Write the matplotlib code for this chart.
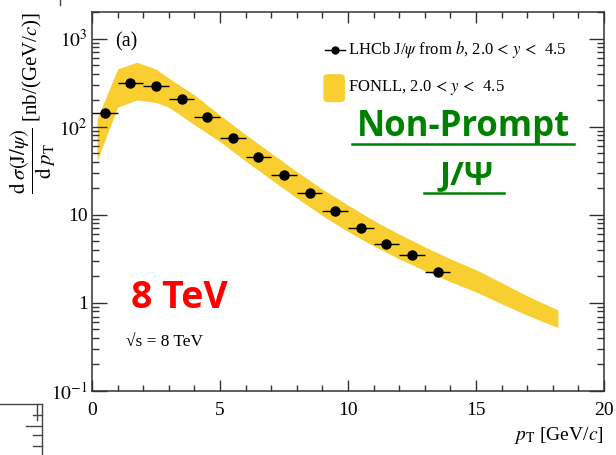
import matplotlib.pyplot as plt
import numpy as np
from matplotlib.lines import Line2D
from matplotlib.patches import FancyBboxPatch

plt.rcParams['mathtext.fontset'] = 'stix'
plt.rcParams['font.family'] = ['Liberation Serif', 'DejaVu Serif']

# LHCb non-prompt J/psi, 8 TeV
pt_centers = [0.5, 1.5, 2.5, 3.5, 4.5, 5.5, 6.5, 7.5, 8.5, 9.5, 10.5, 11.5, 12.5, 13.5]
pt_halfwidth = [0.5] * 14
xsec = [141, 316, 290, 204, 128, 75, 45.6, 28, 17.5, 10.9, 7.06, 4.65, 3.51, 2.23]

# FONLL band
fonll_pt = [0.2, 0.6, 1.0, 1.75, 2.5, 3, 4, 5, 6, 7, 8, 9, 10,
            11, 12, 13, 14, 15, 16, 17, 18.2]
fonll_hi = [122, 235, 452, 538, 450, 355, 229, 135, 81.3, 50.1, 30.9, 19.5, 12.9,
            8.61, 6.03, 4.32, 3.16, 2.38, 1.70, 1.20, 0.83]
fonll_lo = [41, 83, 166, 201, 188, 166, 105, 67.6, 40.7, 25.1, 15.5, 9.77, 6.46,
            4.42, 3.16, 2.32, 1.74, 1.33, 0.977, 0.724, 0.525]

band_color = '#f8ce30'

fig = plt.figure(figsize=(6.16, 4.55), dpi=100)
ax = fig.add_axes([92/616, 1 - 391/455, 512/616, 379/455])

ax.fill_between(fonll_pt, fonll_lo, fonll_hi, color=band_color, linewidth=0)
ax.errorbar(pt_centers, xsec, xerr=pt_halfwidth, fmt='o', color='black', ms=6.5,
            elinewidth=1.0, capsize=0, zorder=5)

ax.set_yscale('log')
ax.set_xlim(0, 20)
ax.set_ylim(0.1, 2000)

ax.set_xticks([0, 5, 10, 15, 20])
ax.set_xticks(np.arange(0, 21, 1), minor=True)
ax.set_yticks([0.1, 1, 10, 100, 1000])
ax.set_yticklabels([r'$10^{-1}$', '1', '10', r'$10^{2}$', r'$10^{3}$'])
ax.tick_params(which='both', direction='in', top=True, right=True, labelsize=14,
               color='#333333', width=1.0)
ax.tick_params(axis='x', which='major', length=8, pad=8)
ax.tick_params(axis='x', which='minor', length=4.3)
ax.tick_params(axis='y', which='major', length=10.5, pad=3)
ax.tick_params(axis='y', which='minor', length=5)
for s in ax.spines.values():
    s.set_linewidth(1.1)
    s.set_color('#333333')

# legend drawn by hand, ROOT style
ax.plot([0.455, 0.494], [0.90, 0.90], transform=ax.transAxes, color='black', lw=1.0)
ax.plot([0.474], [0.90], 'o', transform=ax.transAxes, color='black', ms=5)
ax.text(0.50, 0.90, r'LHCb J/$\psi$ from $b$, 2.0$\,<\,y\,<\,$ 4.5', transform=ax.transAxes,
        fontsize=12, va='center', ha='left')
ax.add_patch(FancyBboxPatch((0.455, 0.765), 0.036, 0.068, transform=ax.transAxes,
                            boxstyle='round,pad=0.003,rounding_size=0.01',
                            facecolor=band_color, edgecolor='none'))
ax.text(0.50, 0.80, r'FONLL, 2.0$\,<\,y\,<\,$ 4.5', transform=ax.transAxes,
        fontsize=12, va='center', ha='left')

ax.text(0.045, 0.921, '(a)', transform=ax.transAxes, fontsize=14.5, va='center', ha='left')
ax.text(0.066, 0.13, '√s = 8 TeV', transform=ax.transAxes,
        fontsize=12.5, va='center', ha='left')

# axis titles
fig.text(33/616, 1 - 12/455,
         r'$\dfrac{\mathrm{d}\;\sigma(\mathrm{J}/\psi)}{\mathrm{d}\;p_{\mathrm{T}}}$ [nb/(GeV/$c$)]',
         rotation=90, ha='center', va='top', fontsize=15)
fig.text(604/616, 1 - 435/455, r'$p_{\mathrm{T}}$ [GeV/$c$]', ha='right', va='center', fontsize=14)

# overlay annotations
sans = ['Open Sans', 'DejaVu Sans']
fig.text(463/616, 1 - 127/455, 'Non-Prompt', family=sans, fontweight='bold',
         fontsize=25, color='#008000', ha='center', va='center')
fig.text(467/616, 1 - 176/455, 'J/Ψ', family=sans, fontweight='bold',
         fontsize=24, color='#008000', ha='center', va='center')
fig.add_artist(Line2D([352/616, 574/616], [1 - 143.5/455] * 2, color='#008000', lw=1.8))
fig.add_artist(Line2D([424/616, 504/616], [1 - 192.5/455] * 2, color='#008000', lw=1.8))
fig.text(179/616, 1 - 298/455, '8 TeV', family=sans, fontweight='bold',
         fontsize=27, color='#ff0000', ha='center', va='center')

# fragment of a neighbouring panel at the bottom left
frag = dict(color='#444444', lw=1.0)
fig.add_artist(Line2D([0, 42/616], [1 - 404/455] * 2, **frag))
fig.add_artist(Line2D([42/616] * 2, [1 - 404/455, 0], **frag))
fig.add_artist(Line2D([37/616] * 2, [1 - 404/455, 1 - 420/455], **frag))
for yy, x0 in [(415, 33), (426, 26), (435, 33), (446, 33)]:
    fig.add_artist(Line2D([x0/616, 42/616], [1 - yy/455] * 2, **frag))
fig.add_artist(Line2D([60/616] * 2, [1, 1 - 5/455], **frag))

fig.savefig('out.png', dpi=100)
